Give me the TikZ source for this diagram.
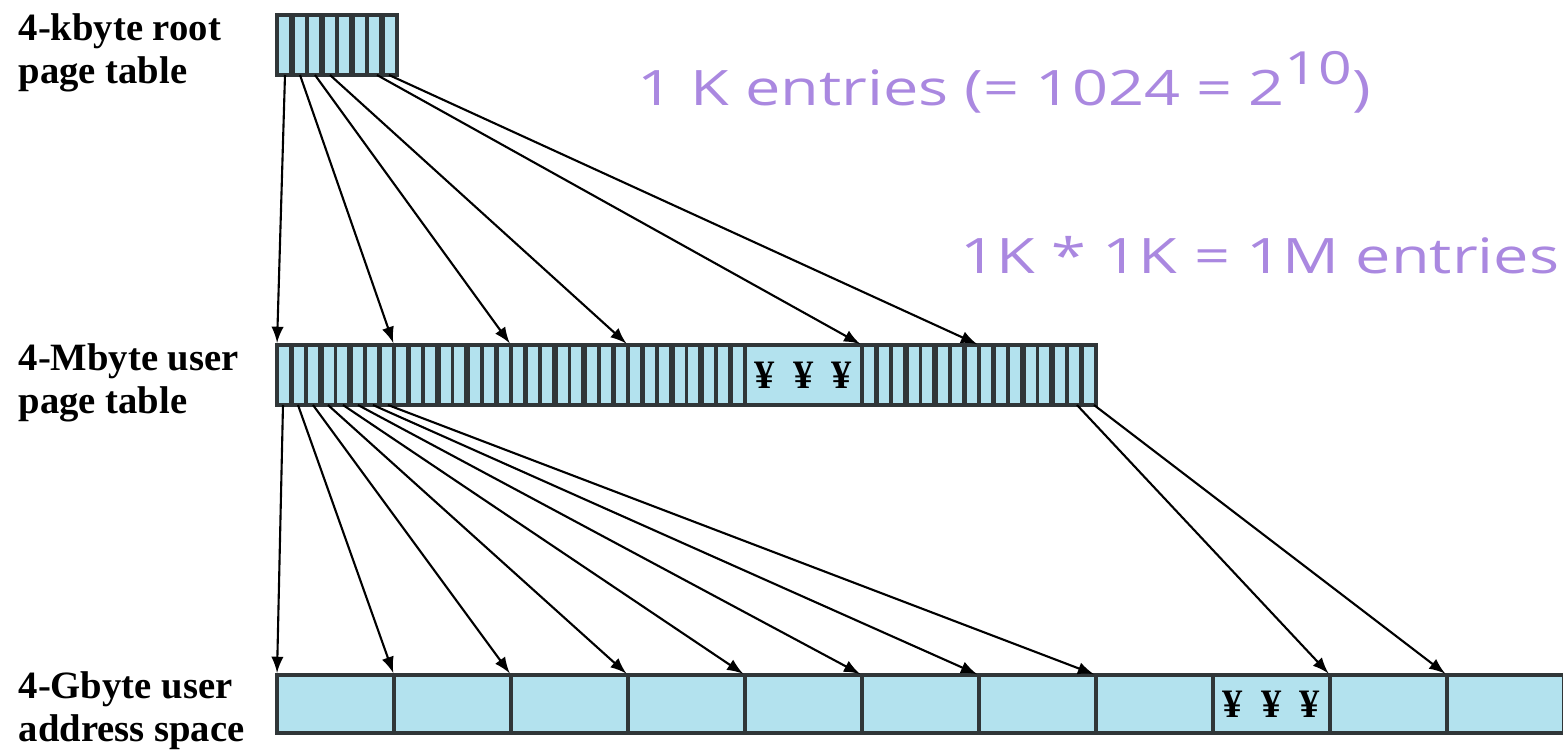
\documentclass[tikz,border=0pt]{standalone}
\usepackage{fontspec}
\setmainfont{Liberation Serif}
\newfontfamily\notefont[FakeStretch=1.29]{Open Sans}
\usetikzlibrary{calc}
\definecolor{cellblue}{RGB}{179,226,238}
\definecolor{rim}{RGB}{48,54,56}
\definecolor{shade}{RGB}{104,142,150}
\definecolor{notepurple}{RGB}{170,136,224}
\tikzset{
  cell/.style={draw=rim, fill=cellblue, line width=1.2pt, inner sep=0pt, outer sep=0pt,
    minimum width=1.17cm, minimum height=0.6cm, anchor=north west},
  striped/.style={path picture={
    \foreach \k in {1,...,7}{
      \ifodd\k\relax \def\sc{shade}\def\sw{1.6pt}\else \def\sc{rim}\def\sw{1pt}\fi
      \draw[\sc, line width=\sw]
        ($(path picture bounding box.north west)!\k/8!(path picture bounding box.north east)$) --
        ($(path picture bounding box.south west)!\k/8!(path picture bounding box.south east)$);
    }}},
  ptr/.style={-latex, black, line width=0.6pt, shorten >=0.6pt},
  lbl/.style={align=left, anchor=north west, inner sep=0pt,
    font=\bfseries\fontsize{11}{12.3}\selectfont},
  note/.style={anchor=base west, inner sep=0pt, text=notepurple,
    font=\notefont\fontsize{13.9}{16}\selectfont},
  yen/.style={font=\bfseries\fontsize{11.5}{12}\selectfont, inner sep=0pt}
}

\begin{document}
\begin{tikzpicture}
  \useasboundingbox (0,0) rectangle (15.63,7.49);

  % root table
  \node[cell, striped, minimum width=1.2cm] (root) at (2.77,7.34) {};
  \node[lbl] (rootlbl) at (0.18,7.36) {4-kbyte root\\page table};

  % user page table, 7 of the 1024 pages
  \foreach \i in {1,...,7}{
    \ifnum\i=5
      \node[cell] (u\i) at ({2.77+1.17*(\i-1)},4.04) {};
    \else
      \node[cell, striped] (u\i) at ({2.77+1.17*(\i-1)},4.04) {};
    \fi
  }
  \node[yen] (udots) at (u5.center) {¥\hspace{5.2pt}¥\hspace{5.2pt}¥};
  \node[lbl] (userlbl) at (0.18,4.06) {4-Mbyte user\\page table};

  % user address space
  \foreach \i in {1,...,11}
    \node[cell, minimum height=0.58cm] (g\i) at ({2.77+1.17*(\i-1)},0.74) {};
  \node[yen] (gdots) at (g9.center) {¥\hspace{5.2pt}¥\hspace{5.2pt}¥};
  \node[lbl] (spacelbl) at (0.18,0.78) {4-Gbyte user\\address space};

  % pointers out of the root table
  \foreach \i/\dx in {1/0.08,2/0.23,3/0.38,4/0.53,5/1.0,6/1.12}
    \coordinate (r\i) at ([xshift=\dx cm]root.south west);
  \draw[ptr] (r1) -- (u1.north west);
  \draw[ptr] (r2) -- (u2.north west);
  \draw[ptr] (r3) -- (u3.north west);
  \draw[ptr] (r4) -- (u4.north west);
  \draw[ptr] (r5) -- (u6.north west);
  \draw[ptr] (r6) -- (u7.north west);

  % pointers out of the user page table
  \foreach \i in {1,...,8}{
    \coordinate (p\i) at ([xshift={0.06cm+0.15cm*(\i-1)}]u1.south west);
    \draw[ptr] (p\i) -- (g\i.north west);
  }
  \coordinate (q1) at ([xshift=-0.19cm]u7.south east);
  \coordinate (q2) at ([xshift=-0.02cm]u7.south east);
  \draw[ptr] (q1) -- (g10.north west);
  \draw[ptr] (q2) -- (g11.north west);

  \node[note] (n1) at (6.37,6.44) {1 K entries (= 1024 = 2\raisebox{5.7pt}{\fontsize{13}{13}\selectfont 10})};
  \node[note] (n2) at (9.6,4.76) {1K * 1K = 1M entries};
\end{tikzpicture}
\end{document}
